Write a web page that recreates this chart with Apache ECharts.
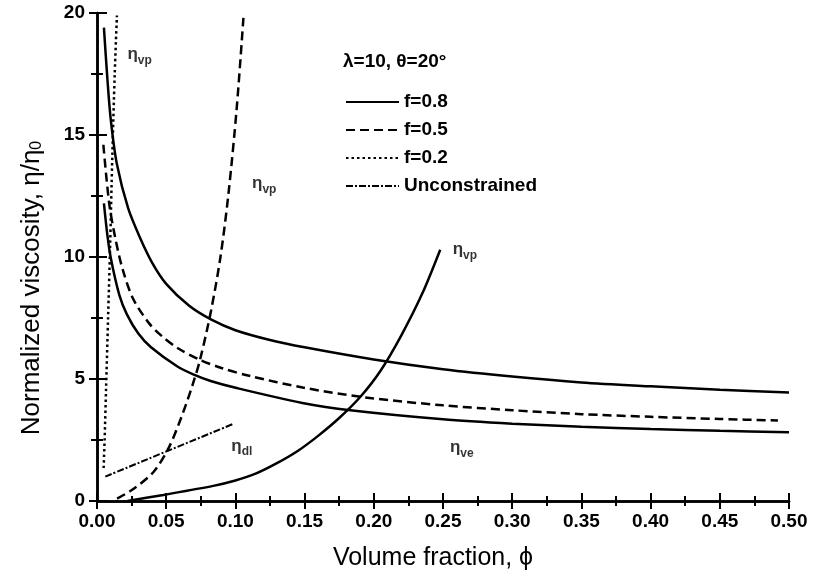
<!DOCTYPE html>
<html><head><meta charset="utf-8">
<script src="https://cdn.jsdelivr.net/npm/echarts@6/dist/echarts.min.js"></script>
<style>html,body{margin:0;padding:0;background:#fff}#c{width:818px;height:574px}</style>
</head><body><div id="c"></div>
<script>
// ---- tick labels ----
const xTickLabels = ['0.00','0.05','0.10','0.15','0.20','0.25','0.30','0.35','0.40','0.45','0.50'];
const yTickLabels = ['0','5','10','15','20'];

// ---- eta_ve curves ----
const phiVe08 = [0.005,0.0075,0.01,0.0144,0.0225,0.031,0.04,0.05,0.0666,0.083,0.1,0.125,0.15,0.2,0.25,0.3,0.35,0.4,0.45,0.5];
const etaVe08 = [19.4,17.3,15.6,13.8,12.0,10.8,9.75,8.9,8.0,7.42,7.0,6.6,6.3,5.8,5.4,5.1,4.86,4.7,4.56,4.45];

const phiVe05 = [0.0046,0.0088,0.0133,0.0185,0.026,0.0374,0.047,0.0588,0.0745,0.09,0.11,0.1486,0.1933,0.25,0.3,0.35,0.4,0.45,0.492];
const etaVe05 = [14.6,12.2,10.75,9.5,8.3,7.3,6.75,6.25,5.78,5.45,5.13,4.65,4.25,3.92,3.72,3.56,3.45,3.36,3.3];

const phiVeLow = [0.005,0.0075,0.01,0.0161,0.0216,0.03,0.039,0.0584,0.07,0.0821,0.1016,0.1484,0.183,0.25,0.3,0.35,0.4,0.45,0.5];
const etaVeLow = [12.2,10.9,9.95,8.45,7.65,6.85,6.3,5.5,5.18,4.92,4.62,4.02,3.72,3.35,3.17,3.04,2.95,2.88,2.82];

// ---- eta_vp curves ----
const phiVp02 = [0.0048,0.0055,0.0065,0.008,0.0095,0.011,0.0128,0.0144];
const etaVp02 = [1.35,2.5,4.5,7.5,10.5,14.0,17.5,19.9];

const phiVp05 = [0.0145,0.026,0.041,0.052,0.0614,0.069,0.0745,0.0824,0.0892,0.095,0.1008,0.1058];
const etaVp05 = [0.1,0.48,1.2,2.2,3.5,4.75,5.8,7.8,10.0,12.6,16.0,19.8];

const phiVp08 = [0.022,0.048,0.084,0.1,0.115,0.13,0.145,0.16,0.175,0.19,0.205,0.22,0.235,0.248];
const etaVp08 = [0.0,0.25,0.62,0.84,1.13,1.55,2.05,2.68,3.4,4.25,5.35,6.8,8.5,10.3];

// ---- unconstrained (eta_dl) ----
const phiDl = [0.006,0.098];
const etaDl = [1.0,3.15];

// ---- curve annotations: [phi, eta, subscript] ----
const notes = [
  [0.022, 18.3, 'vp'],
  [0.112, 13.0, 'vp'],
  [0.257, 10.3, 'vp'],
  [0.097, 2.25, 'dl'],
  [0.255, 2.2, 've']
];

const zip = (a, b) => a.map((v, i) => [v, b[i]]);
const FONT = 'Liberation Sans';
const black = '#000';

function curve(name, xs, ys, lineType, width) {
  return {
    name: name, type: 'line', data: zip(xs, ys), symbol: 'none',
    smooth: 0.3, silent: true, z: 3,
    lineStyle: { color: black, width: width || 2.5, type: lineType || 'solid' },
    itemStyle: { color: black }
  };
}

const chart = echarts.init(document.getElementById('c'), null, { renderer: 'canvas' });
const axisCommon = {
  axisLine: { show: true, lineStyle: { color: black, width: 2.5 } },
  splitLine: { show: false },
  minorSplitLine: { show: false }
};

chart.setOption({
  animation: false,
  backgroundColor: '#fff',
  grid: { left: 97, right: 29, top: 13, bottom: 73 },
  xAxis: [
    Object.assign({}, axisCommon, {
      type: 'value', min: 0, max: 0.5, interval: 0.05, position: 'bottom',
      axisTick: { show: true, inside: true, length: 8, lineStyle: { color: black, width: 2 } },
      minorTick: { show: true, splitNumber: 2, length: 5, lineStyle: { color: black, width: 2 } },
      axisLabel: { color: black, fontFamily: FONT, fontWeight: 'bold', fontSize: 19, margin: 11,
        formatter: v => xTickLabels[Math.round(v / 0.05)] }
    }),
    Object.assign({}, axisCommon, {
      type: 'value', min: 0, max: 0.5, interval: 0.05, position: 'top',
      axisTick: { show: true, inside: true, length: 8, lineStyle: { color: black, width: 2 } },
      minorTick: { show: true, splitNumber: 2, length: 5, lineStyle: { color: black, width: 2 } },
      axisLabel: { show: false }
    })
  ],
  yAxis: [
    Object.assign({}, axisCommon, {
      type: 'value', min: 0, max: 20, interval: 5, position: 'left',
      axisTick: { show: true, inside: true, length: 10, lineStyle: { color: black, width: 2 } },
      minorTick: { show: true, splitNumber: 2, length: 6, lineStyle: { color: black, width: 2 } },
      axisLabel: { color: black, fontFamily: FONT, fontWeight: 'bold', fontSize: 19, margin: 12,
        formatter: v => yTickLabels[Math.round(v / 5)] }
    }),
    Object.assign({}, axisCommon, {
      type: 'value', min: 0, max: 20, interval: 5, position: 'right',
      axisTick: { show: true, inside: true, length: 8, lineStyle: { color: black, width: 2 } },
      minorTick: { show: true, splitNumber: 2, length: 6, lineStyle: { color: black, width: 2 } },
      axisLabel: { show: false }
    })
  ],
  legend: {
    data: ['f=0.8', 'f=0.5', 'f=0.2', 'Unconstrained'],
    orient: 'vertical', left: 345, top: 92, padding: 0,
    itemWidth: 53, itemHeight: 14, itemGap: 8, selectedMode: false,
    itemStyle: { opacity: 0 },
    textStyle: { color: black, fontFamily: FONT, fontWeight: 'bold', fontSize: 19, lineHeight: 20 }
  },
  graphic: [
    {
      type: 'text', left: 343, top: 52,
      style: { text: 'λ=10, θ=20°', fill: black, font: 'bold 19px "Liberation Sans"' }
    },
    {
      type: 'text', x: 433, y: 558,
      style: { text: 'Volume fraction, ϕ', fill: black, font: '25px "Liberation Sans"',
        align: 'center', verticalAlign: 'middle' }
    },
    {
      type: 'text', x: 32, y: 288, rotation: Math.PI / 2,
      style: {
        text: 'Normalized viscosity, η/η{s|0}', fill: black,
        fontFamily: FONT, fontSize: 26, align: 'center', verticalAlign: 'middle',
        rich: { s: { fontFamily: FONT, fontSize: 16, verticalAlign: 'bottom', lineHeight: 16 } }
      }
    }
  ],
  series: [
    curve('f=0.8', phiVe08, etaVe08, 'solid'),
    curve('f=0.5', phiVe05, etaVe05, [9, 5]),
    curve('f=0.2', phiVp02, etaVp02, [2.5, 3]),
    curve('Unconstrained', phiDl, etaDl, [7, 2, 2, 2], 2),
    curve('ηve lower', phiVeLow, etaVeLow, 'solid'),
    curve('ηvp f=0.5', phiVp05, etaVp05, [9, 5]),
    curve('ηvp f=0.8', phiVp08, etaVp08, 'solid'),
    {
      name: 'labels', type: 'scatter', symbolSize: 0, silent: true, z: 5,
      data: notes.map(n => ({ value: [n[0], n[1]], sub: n[2] })),
      label: {
        show: true, position: 'right', distance: 0, color: black,
        formatter: p => '{e|η}{s|' + p.data.sub + '}',
        rich: {
          e: { fontFamily: FONT, fontSize: 17, fontWeight: 'bold', lineHeight: 24, color: black },
          s: { fontFamily: FONT, fontSize: 12, fontWeight: 'bold', verticalAlign: 'bottom', lineHeight: 12, color: black }
        }
      }
    }
  ]
});
</script>
</body></html>
